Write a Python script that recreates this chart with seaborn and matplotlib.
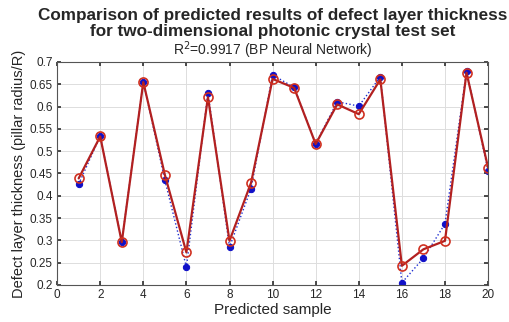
import matplotlib
matplotlib.use("Agg")
import matplotlib.pyplot as plt
import seaborn as sns
import pandas as pd
import numpy as np

samples = list(range(1, 21))
actual = [0.426, 0.534, 0.297, 0.656, 0.435, 0.240, 0.631, 0.285, 0.416, 0.671,
          0.643, 0.517, 0.611, 0.601, 0.667, 0.205, 0.260, 0.337, 0.680, 0.456]
predicted = [0.439, 0.533, 0.296, 0.655, 0.447, 0.273, 0.621, 0.299, 0.429, 0.662,
             0.642, 0.516, 0.605, 0.583, 0.661, 0.243, 0.280, 0.299, 0.676, 0.463]
xticks = list(range(0, 21, 2))
yticks = [0.2, 0.25, 0.3, 0.35, 0.4, 0.45, 0.5, 0.55, 0.6, 0.65, 0.7]
ytick_labels = ["0.2", "0.25", "0.3", "0.35", "0.4", "0.45", "0.5", "0.55", "0.6", "0.65", "0.7"]

sns.set_theme(style="whitegrid")
plt.rcParams['font.family'] = ['Liberation Sans', 'DejaVu Sans']

df = pd.DataFrame({"sample": samples, "actual": actual, "predicted": predicted})

fig = plt.figure(figsize=(5.1, 3.22), dpi=100)
ax = fig.add_axes([0.112, 0.115, 0.845, 0.6925])

sns.lineplot(data=df, x="sample", y="actual", ax=ax, color="#1f2fd0", linestyle=":",
             linewidth=1.0, marker="o", markersize=4.5, markerfacecolor="#1010c8",
             markeredgecolor="#1010c8")
sns.lineplot(data=df, x="sample", y="predicted", ax=ax, color="#b22020", linestyle="-",
             linewidth=1.6, marker="o", markersize=6.5, markerfacecolor="none",
             markeredgecolor="#d03020", markeredgewidth=1.2)

ax.set_xlim(0, 20)
ax.set_ylim(0.2, 0.7)
ax.set_xticks(xticks)
ax.set_yticks(yticks)
ax.set_yticklabels(ytick_labels)
ax.tick_params(axis="both", labelsize=8.5, direction="in", length=3, color="#333333",
               pad=3, top=True, right=True, bottom=True, left=True)
ax.grid(True, color="#dddddd", linewidth=0.7)
for s in ax.spines.values():
    s.set_color("#555555")
    s.set_linewidth(0.8)
ax.set_xlabel("Predicted sample", fontsize=11, labelpad=1)
ax.set_ylabel("Defect layer thickness (pillar radius/R)", fontsize=10.5, labelpad=3)

fig.text(0.535, 0.952, "Comparison of predicted results of defect layer thickness",
         ha="center", va="center", fontsize=12.3, fontweight="bold")
fig.text(0.535, 0.902, "for two-dimensional photonic crystal test set",
         ha="center", va="center", fontsize=12.3, fontweight="bold")
fig.text(0.535, 0.843, "R$^2$=0.9917 (BP Neural Network)",
         ha="center", va="center", fontsize=10)

fig.savefig("out.png", dpi=100)
